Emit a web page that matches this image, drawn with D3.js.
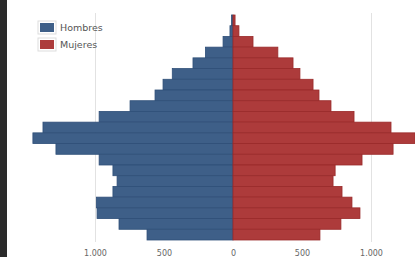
<!DOCTYPE html>
<html>
<head>
<meta charset="utf-8">
<script src="https://cdn.jsdelivr.net/npm/d3@7"></script>
<style>
  html, body { margin: 0; padding: 0; background: #fff; overflow: hidden; }
  #chart { width: 415px; height: 257px; }
</style>
</head>
<body>
<div id="chart"></div>
<script>
// age groups, oldest at the top
var ages = ["100+","95-99","90-94","85-89","80-84","75-79","70-74","65-69","60-64","55-59",
            "50-54","45-49","40-44","35-39","30-34","25-29","20-24","15-19","10-14","5-9","0-4"];
var hombres = [11, 22, 72, 200, 290, 440, 507, 565, 746, 970,
               1377, 1450, 1283, 970, 870, 840, 870, 990, 985, 826, 623];
var mujeres = [15, 43, 145, 325, 435, 485, 580, 623, 710, 877,
               1145, 1320, 1160, 935, 740, 725, 790, 862, 920, 782, 630];
var ticks = [-1000, -500, 0, 500, 1000];
var gridTicks = [-1000, 1000];
var series = ["Hombres", "Mujeres"];
var colors = ["#3e5f88", "#ad3b3b"];
var strokes = ["#2f4f78", "#992a2a"];

var W = 415, H = 257;

var svg = d3.select("#chart")
    .append("svg")
        .attr("width", W)
        .attr("height", H);

// dark strip on the left edge
svg.append("rect")
    .attr("x", 0).attr("y", 0)
    .attr("width", 7).attr("height", H)
    .attr("fill", "#2b2b2b");

var x = d3.scaleLinear()
    .domain([-1000, 1000])
    .range([95, 371]);

var y = d3.scaleBand()
    .domain(ages)
    .range([15, 240])
    .padding(0);

// gridlines
svg.selectAll(".grid")
    .data(gridTicks)
    .enter().append("line")
        .attr("class", "grid")
        .attr("x1", function(d) { return x(d) + 0.5; })
        .attr("x2", function(d) { return x(d) + 0.5; })
        .attr("y1", 13)
        .attr("y2", 242)
        .attr("stroke", "#e2e2e2")
        .attr("stroke-width", 1);

// Hombres bars (left)
svg.selectAll(".barH")
    .data(ages)
    .enter().append("rect")
        .attr("class", "barH")
        .attr("x", function(d, i) { return x(-hombres[i]); })
        .attr("y", function(d) { return y(d); })
        .attr("width", function(d, i) { return x(0) - x(-hombres[i]); })
        .attr("height", y.bandwidth())
        .attr("fill", colors[0])
        .attr("stroke", strokes[0])
        .attr("stroke-width", 0.8);

// Mujeres bars (right)
svg.selectAll(".barM")
    .data(ages)
    .enter().append("rect")
        .attr("class", "barM")
        .attr("x", x(0))
        .attr("y", function(d) { return y(d); })
        .attr("width", function(d, i) { return x(mujeres[i]) - x(0); })
        .attr("height", y.bandwidth())
        .attr("fill", colors[1])
        .attr("stroke", strokes[1])
        .attr("stroke-width", 0.8);

// x axis labels
var fmt = function(d) {
    return d3.format(",")(Math.abs(d)).replace(/,/g, ".");
};
var xAxis = svg.append("g")
    .attr("transform", "translate(0,247)")
    .call(d3.axisBottom(x).tickValues(ticks).tickSize(0).tickFormat(fmt));
xAxis.select(".domain").remove();
xAxis.selectAll("text")
    .attr("dy", "0.71em")
    .style("font-family", "Verdana, 'DejaVu Sans', sans-serif")
    .style("font-size", "8px")
    .style("fill", "#666");

// legend
var legend = svg.selectAll(".legend")
    .data(series)
    .enter().append("g")
        .attr("class", "legend")
        .attr("transform", function(d, i) { return "translate(39," + (22 + i * 17) + ")"; });
legend.append("rect")
    .attr("x", -1).attr("y", -1)
    .attr("width", 18).attr("height", 13)
    .attr("fill", "#fff")
    .attr("stroke", "#ddd");
legend.append("rect")
    .attr("x", 1).attr("y", 1)
    .attr("width", 14).attr("height", 9)
    .attr("fill", function(d, i) { return colors[i]; });
legend.append("text")
    .attr("x", 21)
    .attr("y", 6)
    .attr("dy", "0.35em")
    .style("font-family", "Verdana, 'DejaVu Sans', sans-serif")
    .style("font-size", "9.5px")
    .style("fill", "#555")
    .text(function(d) { return d; });
</script>
</body>
</html>
